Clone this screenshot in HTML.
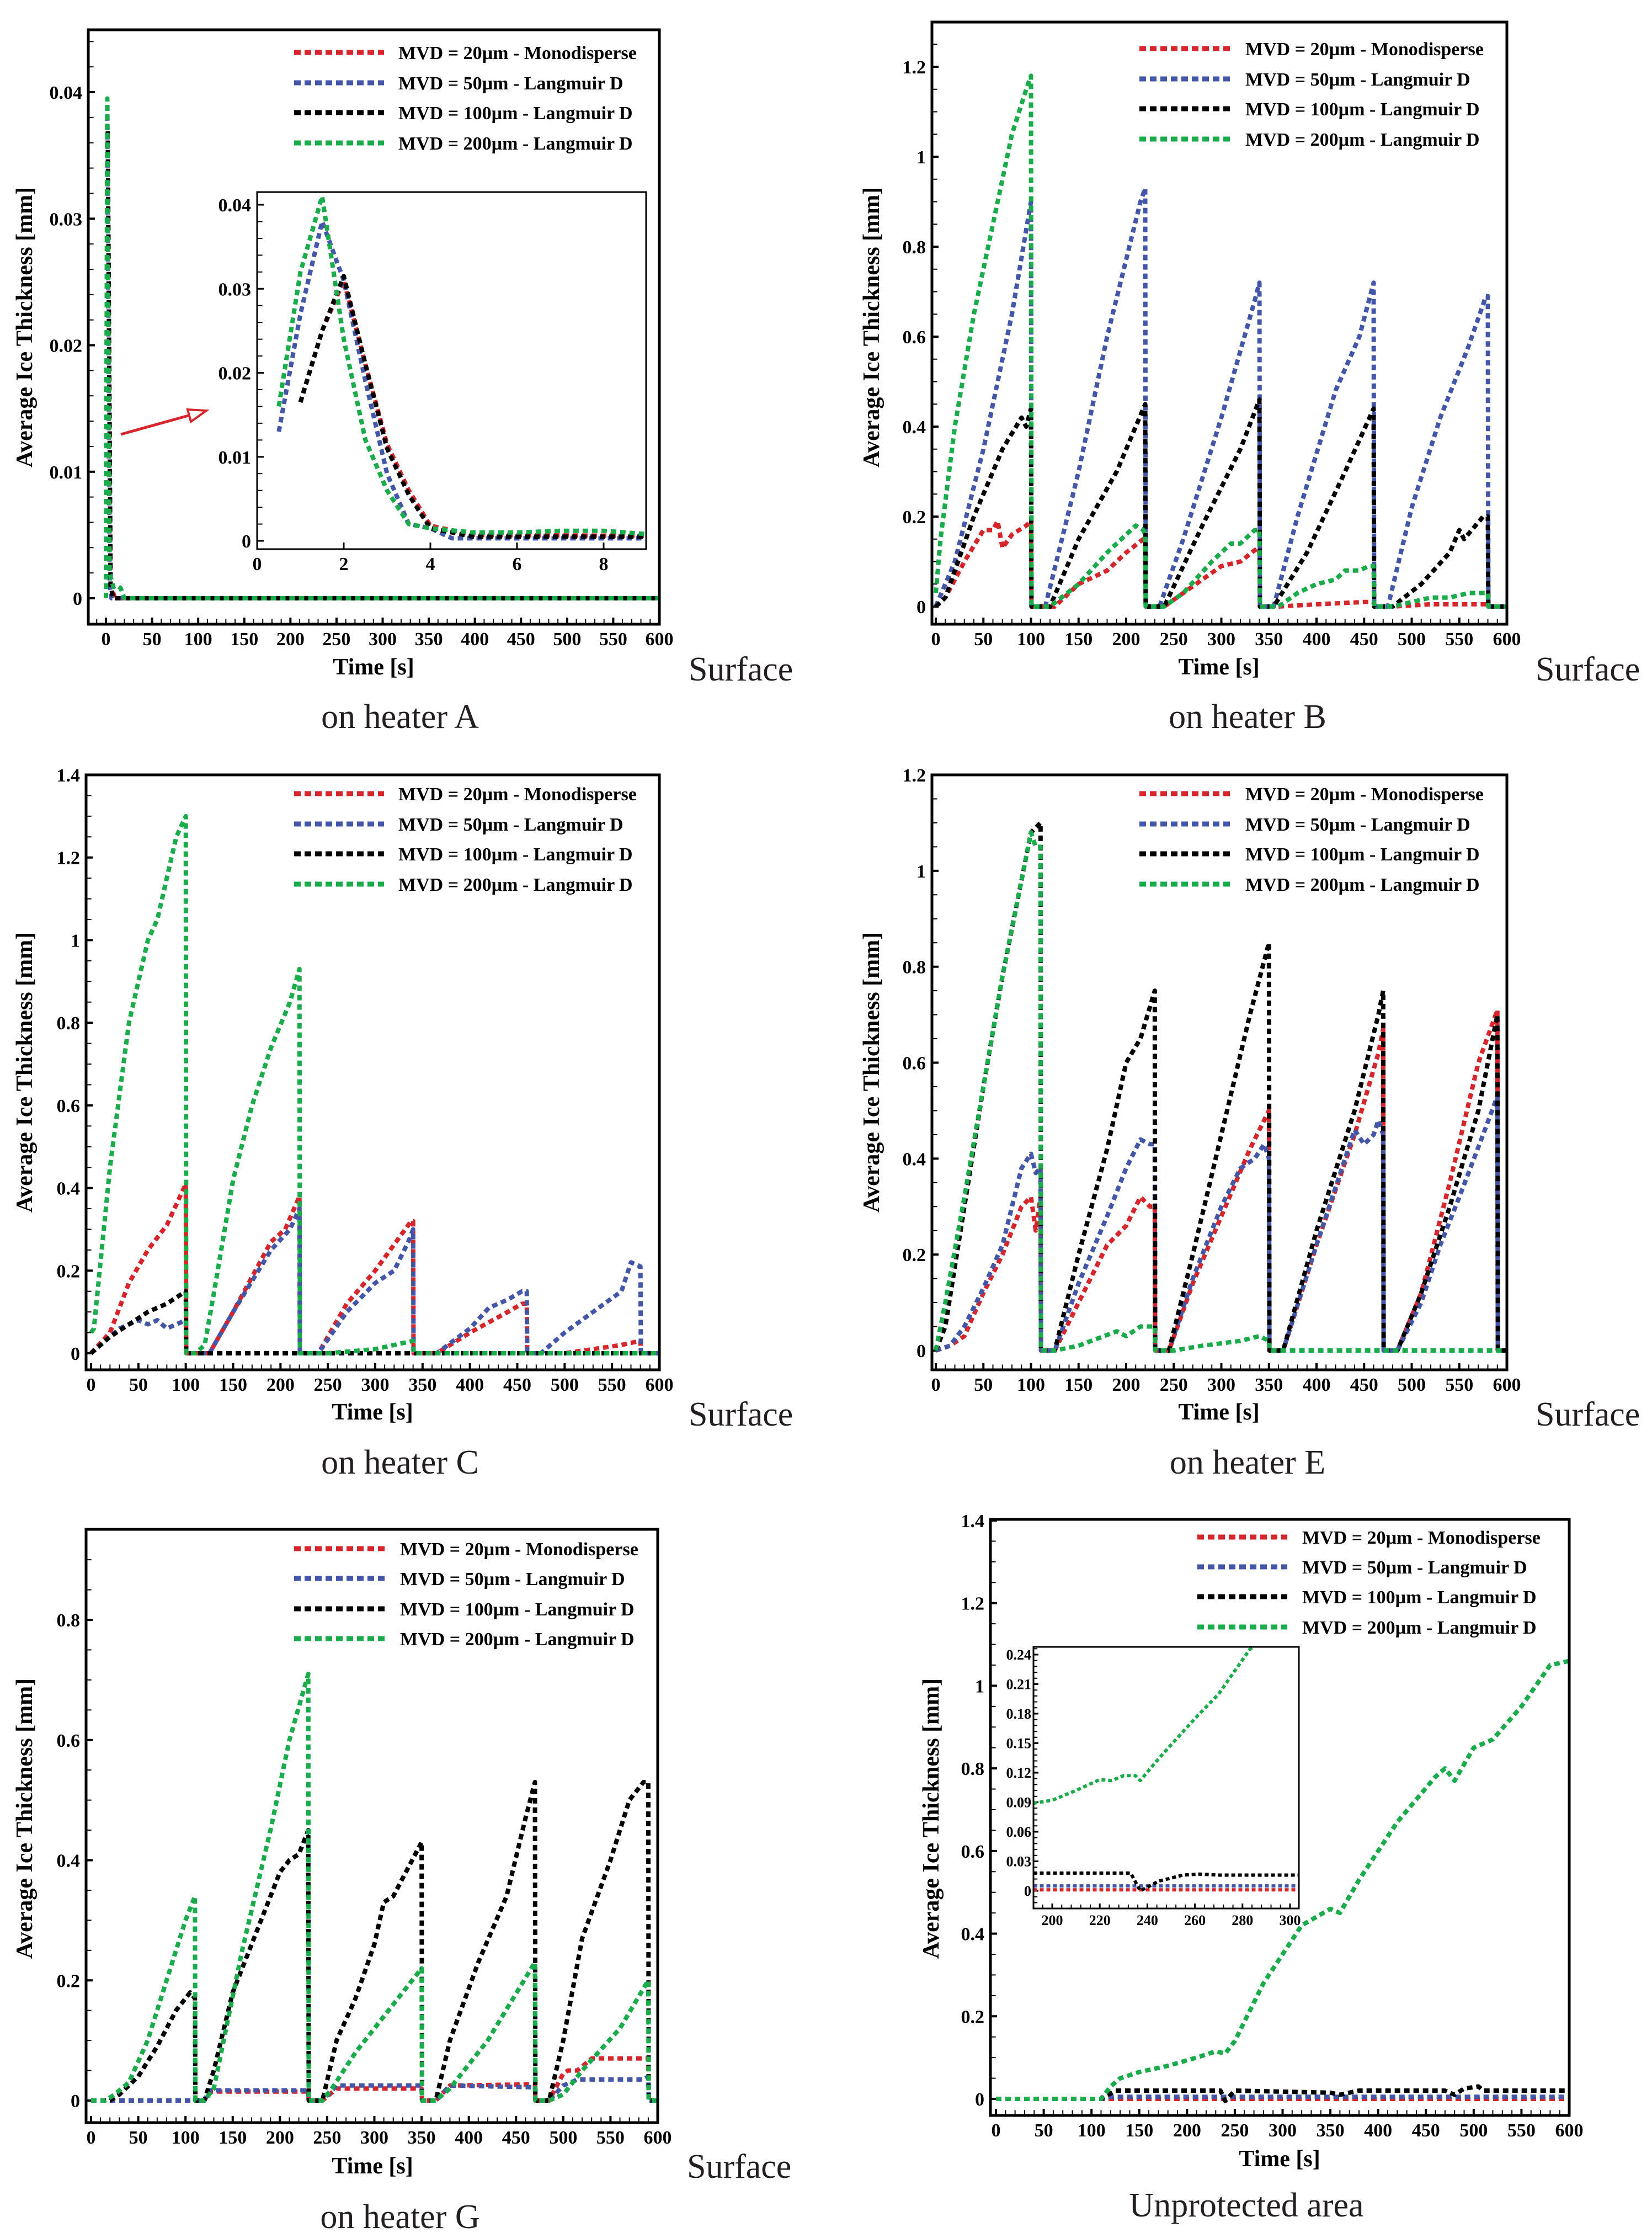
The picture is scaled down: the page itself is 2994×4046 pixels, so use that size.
<!DOCTYPE html>
<html><head><meta charset="utf-8">
<style>
html,body{margin:0;padding:0;background:#fff;}
svg{display:block;}
text{font-family:"Liberation Serif",serif;}
.tk{font-weight:bold;font-size:34px;fill:#000;}
.tks{font-weight:bold;font-size:26px;fill:#000;}
.lg{font-weight:bold;font-size:34px;fill:#000;}
.ax{font-weight:bold;font-size:42px;fill:#000;}
.cap{font-size:62px;fill:#231f20;}
</style></head>
<body>
<svg id="fig" width="2994" height="4046" viewBox="0 0 2994 4046" xmlns="http://www.w3.org/2000/svg">
<defs id="defs"></defs>
</svg>
<script>
// ===== Panel A (heater A) =====
const aGreenT=[0,1.5,4,8,12,16,20,600];
const aGreenV=[0,0.0395,0.002,0.0009,0.001,0.0008,0,0];
const aBlueT=[0,1.5,4,6,600];
const aBlueV=[0,0.038,0.001,0,0];
const aBlackT=[0,2,5,8,600];
const aBlackV=[0,0.037,0.001,0,0];
const aRedT=[0,2,5,10,600];
const aRedV=[0,0.031,0.001,0,0];
// inset A
const aiGreenT=[0.5,1,1.5,2,2.5,3,3.5,4,5,6,7,8,9];
const aiGreenV=[0.016,0.032,0.041,0.024,0.012,0.006,0.002,0.0015,0.001,0.001,0.0012,0.0012,0.0008];
const aiBlueT=[0.5,1,1.5,2,2.5,3,3.5,4,4.5,5,9];
const aiBlueV=[0.013,0.027,0.038,0.031,0.019,0.008,0.002,0.0015,0.0003,0.0003,0.0003];
const aiBlackT=[1,1.5,2,2.5,3,3.5,4,5,9];
const aiBlackV=[0.0165,0.025,0.0315,0.021,0.011,0.0055,0.0015,0.0005,0.0005];
const aiRedT=[1,1.5,2,2.5,3,3.5,4,5,9];
const aiRedV=[0.0165,0.025,0.031,0.021,0.0115,0.006,0.0018,0.0007,0.0006];
// ===== Panel B =====
const bGreenT=[0,5,20,40,60,80,95,100,100.5,105,120,150,180,200,210,218,220,220.5,240,260,290,310,320,335,340,340.5,360,380,400,420,430,445,455,460,460.5,480,500,520,540,560,575,580,580.5,600];
const bGreenV=[0.03,0.15,0.4,0.65,0.85,1.05,1.15,1.18,0,0,0,0.05,0.12,0.16,0.18,0.17,0.16,0,0,0.03,0.1,0.14,0.14,0.17,0.17,0,0,0.03,0.05,0.06,0.08,0.08,0.09,0.09,0,0,0.01,0.02,0.02,0.03,0.03,0.03,0,0];
const bBlueT=[0,20,50,80,100,100.5,115,150,180,215,220,220.5,235,260,300,335,340,340.5,355,380,420,445,460,460.5,475,500,530,560,578,580,580.5,600];
const bBlueV=[0,0.1,0.35,0.65,0.9,0,0,0.3,0.6,0.9,0.93,0,0,0.15,0.42,0.68,0.72,0,0,0.2,0.48,0.6,0.72,0,0,0.22,0.42,0.58,0.69,0.69,0,0];
const bBlackT=[0,10,40,70,90,95,100,100.5,120,150,190,220,220.5,240,280,320,340,340.5,355,390,430,460,460.5,480,510,540,550,555,575,580,580.5,600];
const bBlackV=[0,0.02,0.2,0.35,0.42,0.4,0.44,0,0,0.15,0.3,0.45,0,0,0.18,0.35,0.46,0,0,0.12,0.3,0.44,0,0,0.05,0.12,0.17,0.15,0.2,0.2,0,0];
const bRedT=[0,10,30,50,60,65,70,80,95,100,100.5,125,150,180,200,218,220,220.5,240,260,300,320,338,340,340.5,360,400,450,460,460.5,480,520,580,580.5,600];
const bRedV=[0,0.02,0.1,0.17,0.17,0.19,0.13,0.16,0.18,0.19,0,0,0.05,0.08,0.12,0.15,0.15,0,0,0.03,0.09,0.1,0.13,0.12,0,0,0.005,0.01,0.01,0,0,0.005,0.005,0,0];
// ===== Panel C =====
const cGreenT=[0,3,20,40,60,70,80,90,100,100.5,110,120,130,150,170,190,210,220,220.5,250,300,340,340.5,600];
const cGreenV=[0.05,0.06,0.45,0.8,1.0,1.05,1.15,1.25,1.3,0,0,0.02,0.15,0.42,0.6,0.74,0.85,0.93,0,0,0.01,0.03,0,0];
const cBlueT=[0,10,30,50,60,70,80,90,100,100.5,125,150,190,210,220,220.5,240,270,300,320,335,340,340.5,365,400,420,440,455,460,460.5,475,500,530,560,570,580,580.5,600];
const cBlueV=[0,0.02,0.06,0.08,0.07,0.08,0.06,0.07,0.08,0,0,0.1,0.25,0.3,0.35,0,0,0.1,0.17,0.2,0.27,0.3,0,0,0.06,0.11,0.13,0.15,0.15,0,0,0.05,0.1,0.15,0.22,0.21,0,0];
const cBlackT=[0,5,20,40,60,80,100,100.5,600];
const cBlackV=[0,0.01,0.04,0.07,0.1,0.12,0.15,0,0];
const cRedT=[0,20,40,60,80,100,100.5,125,150,190,205,220,220.5,240,270,300,338,340,340.5,365,400,440,455,460,460.5,500,560,580,580.5,600];
const cRedV=[0,0.05,0.17,0.25,0.31,0.41,0,0,0.1,0.27,0.3,0.38,0,0,0.12,0.2,0.32,0.32,0,0,0.05,0.1,0.12,0.12,0,0,0.02,0.03,0,0];
// ===== Panel E =====
const eGreenT=[0,10,30,50,70,90,100,105,110,110.5,125,150,190,200,215,225,230,230.5,250,280,320,340,350,350.5,600];
const eGreenV=[0,0.1,0.32,0.55,0.78,0.98,1.08,1.05,1.05,0,0,0.01,0.04,0.03,0.05,0.05,0.05,0,0,0.01,0.02,0.03,0.02,0,0];
const eBlackT=[0,10,30,50,70,90,100,110,110.5,125,150,180,200,215,230,230.5,245,270,300,330,350,350.5,365,400,440,465,470,470.5,485,510,540,570,590,590.5,600];
const eBlackV=[0,0.05,0.3,0.55,0.78,0.98,1.08,1.1,0,0,0.2,0.42,0.6,0.65,0.75,0,0,0.2,0.45,0.7,0.85,0,0,0.25,0.5,0.7,0.75,0,0,0.12,0.3,0.5,0.7,0,0];
const eBlueT=[0,15,30,50,70,90,100,105,110,110.5,125,150,180,200,215,225,230,230.5,245,270,300,320,335,345,350,350.5,365,400,430,440,450,460,465,470,470.5,485,510,530,550,575,590,590.5,600];
const eBlueV=[0,0.01,0.05,0.13,0.22,0.38,0.41,0.37,0.38,0,0,0.14,0.28,0.38,0.44,0.43,0.43,0,0,0.15,0.3,0.38,0.4,0.43,0.4,0,0,0.22,0.4,0.46,0.43,0.45,0.48,0.45,0,0,0.1,0.22,0.32,0.45,0.53,0,0];
const eRedT=[0,15,30,50,70,90,100,105,110,110.5,125,150,180,190,200,215,225,230,230.5,245,270,300,330,345,350,350.5,365,400,440,465,470,470.5,485,510,540,570,590,590.5,600];
const eRedV=[0,0.01,0.03,0.12,0.2,0.3,0.32,0.25,0.32,0,0,0.1,0.22,0.24,0.26,0.32,0.3,0.3,0,0,0.14,0.28,0.42,0.48,0.5,0,0,0.22,0.45,0.62,0.67,0,0,0.12,0.35,0.6,0.71,0,0];
// ===== Panel G =====
const gGreenT=[0,15,25,40,60,80,100,110,110.5,120,130,160,190,210,230,230.5,245,255,280,320,350,350.5,365,380,420,470,470.5,485,500,520,560,590,590.5,600];
const gGreenV=[0,0,0.01,0.03,0.1,0.2,0.3,0.34,0,0,0.02,0.25,0.45,0.6,0.71,0,0,0.02,0.08,0.16,0.22,0,0,0.02,0.1,0.23,0,0,0.01,0.05,0.12,0.2,0,0];
const gBlackT=[0,20,30,50,70,90,100,105,110,110.5,120,130,150,180,200,210,220,230,230.5,245,260,280,300,310,320,340,350,350.5,365,380,410,440,460,470,470.5,485,500,520,550,570,585,590,590.5,600];
const gBlackV=[0,0,0.01,0.04,0.09,0.15,0.17,0.18,0.17,0,0,0.05,0.18,0.3,0.38,0.4,0.41,0.45,0,0,0.1,0.17,0.26,0.33,0.34,0.4,0.43,0,0,0.1,0.23,0.34,0.47,0.53,0,0,0.1,0.27,0.4,0.5,0.53,0.53,0,0];
const gRedT=[0,120,125,230,230.5,245,260,350,350.5,365,380,470,470.5,485,500,505,515,530,590,590.5,600];
const gRedV=[0,0,0.015,0.015,0,0,0.02,0.02,0,0,0.025,0.027,0,0,0.045,0.05,0.05,0.07,0.07,0,0];
const gBlueT=[0,120,125,230,230.5,245,260,350,350.5,365,380,470,470.5,485,500,515,585,590,590.5,600];
const gBlueV=[0,0,0.017,0.017,0,0,0.025,0.025,0,0,0.025,0.022,0,0,0.025,0.035,0.035,0.04,0,0];
// ===== Panel H (unprotected) =====
const hGreenT=[0,110,120,130,150,180,210,230,240,250,280,320,350,360,380,420,460,470,480,500,520,550,580,600];
const hGreenV=[0,0,0.03,0.05,0.065,0.08,0.1,0.115,0.11,0.14,0.28,0.42,0.46,0.45,0.53,0.67,0.78,0.8,0.77,0.85,0.87,0.95,1.05,1.06];
const hBlackT=[0,110,125,235,240,250,350,360,380,470,480,490,505,510,520,600];
const hBlackV=[0,0,0.02,0.02,-0.005,0.02,0.015,0.01,0.02,0.02,0.01,0.025,0.03,0.02,0.02,0.02];
const hBlueT=[0,110,120,600];
const hBlueV=[0,0,0.005,0.005];
const hRedT=[0,600];
const hRedV=[0,0];
const hiGreenT=[192,200,210,220,225,230,235,237,245,260,270,283,290];
const hiGreenV=[0.089,0.092,0.102,0.113,0.112,0.117,0.117,0.112,0.135,0.175,0.2,0.245,0.26];
const hiBlackT=[192,233,237,245,255,262,270,304];
const hiBlackV=[0.018,0.018,0,0.01,0.016,0.017,0.016,0.016];
const hiBlueT=[192,304];
const hiBlueV=[0.005,0.005];
const hiRedT=[192,304];
const hiRedV=[0.001,0.001];

const legendLabels=["MVD = 20\u00b5m - Monodisperse","MVD = 50\u00b5m - Langmuir D","MVD = 100\u00b5m - Langmuir D","MVD = 200\u00b5m - Langmuir D"];
const COLORS={red:"#d7262b",blue:"#4356a8",black:"#000000",green:"#1aab4b"};

const NS="http://www.w3.org/2000/svg";
const svg=document.getElementById('fig');
const defs=document.getElementById('defs');
function mk(tag,attrs,parent){const e=document.createElementNS(NS,tag);for(const k in attrs)e.setAttribute(k,attrs[k]);(parent||svg).appendChild(e);return e;}
function fmt(v,dec){if(Math.abs(v)<1e-9)return "0";let s=v.toFixed(dec);s=s.replace(/0+$/,'').replace(/\.$/,'');return s;}

let clipN=0;
function makeAxes(c){
  const sx=t=>c.x0px+(t-c.t0)*(c.x1px-c.x0px)/(c.t1-c.t0);
  const sy=v=>c.y0px-v*(c.y0px-c.yRefPx)/c.yRef;
  return {sx,sy};
}
function drawPanel(c){
  const g=mk('g',{});
  
  
  const [L,T,R,B]=c.frame;
  const {sx,sy}=makeAxes(c);
  const id='clip'+(clipN++);
  const cp=mk('clipPath',{id:id},defs);
  mk('rect',{x:L,y:T,width:R-L,height:B-T},cp);
  mk('rect',{x:L,y:T,width:R-L,height:B-T,fill:'#fff'},g);
  const tg=mk('g',{},g);
  
  
  const tl=c.tickLen||12;
  for(let t=Math.ceil(c.xMin/c.xMinor)*c.xMinor;t<=c.xMax+1e-9;t+=c.xMinor){
    const x=sx(t);if(x<L+1||x>R-1)continue;
    const maj=Math.abs(t/c.xMajor-Math.round(t/c.xMajor))<1e-6;
    mk('line',{x1:x,x2:x,y1:B,y2:B-(maj?tl:tl*0.8),stroke:'#000','stroke-width':maj?(c.thin?3:4):2},tg);
  }
  for(let v=Math.ceil(c.yMin/c.yMinor)*c.yMinor;v<=c.yMax+1e-9;v+=c.yMinor){
    const y=sy(v);if(y<T+1||y>B-1)continue;
    const maj=Math.abs(v/c.yMajor-Math.round(v/c.yMajor))<1e-6;
    mk('line',{x1:L,x2:L+(maj?tl:tl*0.8),y1:y,y2:y,stroke:'#000','stroke-width':maj?(c.thin?3:4):2},tg);
  }
  const cls=c.small?'tks':'tk';
  c.xLabels.forEach(t=>{
    const e=mk('text',{x:sx(t),y:B+(c.small?30:38),'text-anchor':'middle','class':cls},g);
    e.textContent=String(t);
    
    
  });
  c.yLabels.forEach(v=>{
    const e=mk('text',{x:L-(c.small?4:11),y:sy(v)+(c.small?9:12),'text-anchor':'end','class':cls},g);
    e.textContent=fmt(v,c.dec);
    
    
  });
  const sg=mk('g',{'clip-path':'url(#'+id+')'},g);
  
  
  c.series.forEach(s=>{
    const d=s.t.map((t,i)=>(i?'L':'M')+sx(t).toFixed(1)+' '+sy(s.v[i]).toFixed(1)).join(' ');
    const p=mk('path',{d:d,fill:'none',stroke:COLORS[s.color],'stroke-width':c.sw||8,'stroke-dasharray':c.dash||'10 7','stroke-linejoin':'round'},sg);
    
    
  });
  const fr=mk('rect',{x:L,y:T,width:R-L,height:B-T,fill:'none',stroke:'#000','stroke-width':c.thin?3:5},g);
  
  
  return g;
}
function legend(x1,x2,tx,rows,name){
  const g=mk('g',{});
  
  
  const cols=['red','blue','black','green'];
  rows.forEach((y,i)=>{
    mk('line',{x1:x1,x2:x2,y1:y,y2:y,stroke:COLORS[cols[i]],'stroke-width':9,'stroke-dasharray':'12 7'},g);
    const e=mk('text',{x:tx,y:y+12,'class':'lg'},g);
    e.textContent=legendLabels[i];
    
    
  });
}
function txt(x,y,s,cls,anchor,name,rot){
  const a={x:x,y:y,'class':cls,'text-anchor':anchor||'start'};
  if(rot)a.transform='rotate(-90 '+x+' '+y+')';
  const e=mk('text',a);
  e.textContent=s;
  
  
}
function ser(r,b,k,g){return [{color:'red',t:r[0],v:r[1]},{color:'blue',t:b[0],v:b[1]},{color:'black',t:k[0],v:k[1]},{color:'green',t:g[0],v:g[1]}];}
const X50=[0,50,100,150,200,250,300,350,400,450,500,550,600];
function range(a,b,s){const r=[];for(let v=a;v<=b+1e-9;v+=s)r.push(Math.round(v*1000)/1000);return r;}

let cA={name:'panel-heater-a',frame:[160,54,1195,1131],x0px:192,x1px:1195,t0:0,t1:600,y0px:1084,yRefPx:167,yRef:0.04,
 xMin:-19,xMax:600,xMinor:10,xMajor:50,yMin:-0.002,yMax:0.045,yMinor:0.002,yMajor:0.01,xLabels:X50,yLabels:range(0,0.04,0.01),dec:2,
 series:ser([aRedT,aRedV],[aBlueT,aBlueV],[aBlackT,aBlackV],[aGreenT,aGreenV])};
drawPanel(cA);
legend(533,696,722,[95,150,204,259],'legend-a');
let cAi={name:'inset-heater-a',frame:[466,348,1171,995],x0px:466,x1px:1094,t0:0,t1:8,y0px:980,yRefPx:371,yRef:0.04,thin:true,
 xMin:0,xMax:9,xMinor:2,xMajor:2,yMin:-0.001,yMax:0.0415,yMinor:0.002,yMajor:0.01,xLabels:[0,2,4,6,8],yLabels:range(0,0.04,0.01),dec:2,
 series:ser([aiRedT,aiRedV],[aiBlueT,aiBlueV],[aiBlackT,aiBlackV],[aiGreenT,aiGreenV])};
drawPanel(cAi);
(function(){const g=mk('g',{});
 
 
 mk('line',{x1:219,y1:787,x2:345,y2:752,stroke:'#d7262b','stroke-width':5},g);
 mk('polygon',{points:'374,744 346,764 340,742',fill:'#fff',stroke:'#d7262b','stroke-width':4},g);})();
txt(58,593,'Average Ice Thickness [mm]','ax','middle','y-axis-title-a',true);
txt(677,1222,'Time [s]','ax','middle','x-axis-title-a');
txt(1248,1233,'Surface','cap','start','surface-label-a');
txt(725,1319,'on heater A','cap','middle','caption-a');

drawPanel({name:'panel-heater-b',frame:[1689,40,2731,1131],x0px:1696,x1px:2731,t0:0,t1:600,y0px:1099,yRefPx:121,yRef:1.2,
 xMin:-4,xMax:600,xMinor:10,xMajor:50,yMin:-0.04,yMax:1.3,yMinor:0.05,yMajor:0.2,xLabels:X50,yLabels:range(0,1.2,0.2),dec:1,
 series:ser([bRedT,bRedV],[bBlueT,bBlueV],[bBlackT,bBlackV],[bGreenT,bGreenV])});
legend(2065,2230,2257,[88,143,197,252],'legend-b');
txt(1593,593,'Average Ice Thickness [mm]','ax','middle','y-axis-title-b',true);
txt(2209,1222,'Time [s]','ax','middle','x-axis-title-b');
txt(2783,1233,'Surface','cap','start','surface-label-b');
txt(2261,1319,'on heater B','cap','middle','caption-b');

drawPanel({name:'panel-heater-c',frame:[156,1404,1195,2482],x0px:165,x1px:1195,t0:0,t1:600,y0px:2452,yRefPx:1404,yRef:1.4,
 xMin:-5,xMax:600,xMinor:10,xMajor:50,yMin:-0.04,yMax:1.4,yMinor:0.05,yMajor:0.2,xLabels:X50,yLabels:range(0,1.4,0.2),dec:1,
 series:ser([cRedT,cRedV],[cBlueT,cBlueV],[cBlackT,cBlackV],[cGreenT,cGreenV])});
legend(533,696,722,[1438,1493,1547,1602],'legend-c');
txt(58,1943,'Average Ice Thickness [mm]','ax','middle','y-axis-title-c',true);
txt(675,2572,'Time [s]','ax','middle','x-axis-title-c');
txt(1248,2583,'Surface','cap','start','surface-label-c');
txt(725,2670,'on heater C','cap','middle','caption-c');

drawPanel({name:'panel-heater-e',frame:[1689,1404,2731,2482],x0px:1696,x1px:2731,t0:0,t1:600,y0px:2447,yRefPx:1404,yRef:1.2,
 xMin:-4,xMax:600,xMinor:10,xMajor:50,yMin:-0.04,yMax:1.2,yMinor:0.05,yMajor:0.2,xLabels:X50,yLabels:range(0,1.2,0.2),dec:1,
 series:ser([eRedT,eRedV],[eBlueT,eBlueV],[eBlackT,eBlackV],[eGreenT,eGreenV])});
legend(2065,2230,2257,[1438,1493,1547,1602],'legend-e');
txt(1593,1943,'Average Ice Thickness [mm]','ax','middle','y-axis-title-e',true);
txt(2209,2572,'Time [s]','ax','middle','x-axis-title-e');
txt(2783,2583,'Surface','cap','start','surface-label-e');
txt(2261,2670,'on heater E','cap','middle','caption-e');

drawPanel({name:'panel-heater-g',frame:[156,2771,1192,3846],x0px:165,x1px:1192,t0:0,t1:600,y0px:3806,yRefPx:2935,yRef:0.8,
 xMin:-5,xMax:600,xMinor:10,xMajor:50,yMin:-0.04,yMax:0.95,yMinor:0.05,yMajor:0.2,xLabels:X50,yLabels:range(0,0.8,0.2),dec:1,
 series:ser([gRedT,gRedV],[gBlueT,gBlueV],[gBlackT,gBlackV],[gGreenT,gGreenV])});
legend(533,699,725,[2806,2860,2915,2969],'legend-g');
txt(58,3295,'Average Ice Thickness [mm]','ax','middle','y-axis-title-g',true);
txt(675,3938,'Time [s]','ax','middle','x-axis-title-g');
txt(1245,3946,'Surface','cap','start','surface-label-g');
txt(725,4037,'on heater G','cap','middle','caption-g');

drawPanel({name:'panel-unprotected',frame:[1795,2753,2844,3833],x0px:1805,x1px:2844,t0:0,t1:600,y0px:3803,yRefPx:2755,yRef:1.4,
 xMin:-5,xMax:600,xMinor:10,xMajor:50,yMin:-0.04,yMax:1.4,yMinor:0.05,yMajor:0.2,xLabels:X50,yLabels:range(0,1.4,0.2),dec:1,
 series:ser([hRedT,hRedV],[hBlueT,hBlueV],[hBlackT,hBlackV],[hGreenT,hGreenV])});
legend(2170,2333,2360,[2785,2839,2893,2948],'legend-h');
drawPanel({name:'inset-unprotected',frame:[1873,2984,2354,3458],x0px:1907,x1px:2338,t0:200,t1:300,y0px:3426,yRefPx:2998,yRef:0.24,thin:true,small:true,tickLen:9,sw:6,dash:'7 5',
 xMin:192,xMax:304,xMinor:4,xMajor:20,yMin:-0.018,yMax:0.25,yMinor:0.006,yMajor:0.03,xLabels:[200,220,240,260,280,300],yLabels:range(0,0.24,0.03),dec:2,
 series:ser([hiRedT,hiRedV],[hiBlueT,hiBlueV],[hiBlackT,hiBlackV],[hiGreenT,hiGreenV])});
txt(1701,3295,'Average Ice Thickness [mm]','ax','middle','y-axis-title-h',true);
txt(2319,3925,'Time [s]','ax','middle','x-axis-title-h');
txt(2259,4016,'Unprotected area','cap','middle','caption-unprotected');
</script>
</body></html>
